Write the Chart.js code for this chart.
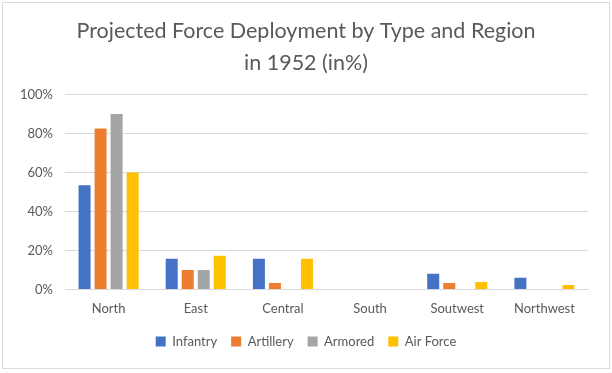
<!DOCTYPE html>
<html lang="en">
  <head>
    <meta charset="UTF-8">
    <script src="https://cdn.jsdelivr.net/npm/chart.js@4.4.0/dist/chart.umd.min.js"></script>
    <style>
      html, body { margin: 0; padding: 0; background: #FFFFFF; }
      .chart-box {
        position: absolute;
        left: 2px;
        top: 2px;
        width: 606px;
        height: 365px;
        border: 1px solid #D9D9D9;
        background: #FFFFFF;
      }
    </style>
  </head>
  <body>
    <div class="chart-box">
      <canvas id="deployChart"></canvas>
    </div>

    <script>
      const regions = ['North', 'East', 'Central', 'South', 'Soutwest', 'Northwest'];
      const infantry = [53.5, 15.7, 15.7, 0, 8, 6];
      const artillery = [82.5, 10, 3.3, 0, 3.3, 0];
      const armored = [90, 10, 0, 0, 0, 0];
      const airForce = [60, 17.3, 15.7, 0, 3.8, 2.2];
      const yTicks = [0, 20, 40, 60, 80, 100];

      const font = "Lato, 'Open Sans', sans-serif";
      const grey = '#595959';

      const ctx = document.getElementById('deployChart').getContext('2d');
      const deployChart = new Chart(ctx, {
        type: 'bar',
        data: {
          labels: regions,
          datasets: [
            { label: 'Infantry', data: infantry, backgroundColor: '#4472C4' },
            { label: 'Artillery', data: artillery, backgroundColor: '#ED7D31' },
            { label: 'Armored', data: armored, backgroundColor: '#A5A5A5' },
            { label: 'Air Force', data: airForce, backgroundColor: '#FFC000' }
          ]
        },
        options: {
          responsive: true,
          maintainAspectRatio: false,
          animation: false,
          datasets: {
            bar: { categoryPercentage: 0.735, barPercentage: 0.75 }
          },
          layout: { padding: { left: 13, right: 13, top: 8, bottom: 10 } },
          plugins: {
            title: {
              display: true,
              text: ['Projected Force Deployment by Type and Region', 'in 1952 (in%)'],
              color: grey,
              font: { family: font, size: 21.5, weight: 'normal', lineHeight: 1.5 },
              padding: { top: 4, bottom: 15 }
            },
            legend: {
              position: 'bottom',
              labels: {
                color: grey,
                font: { family: font, size: 13 },
                boxWidth: 10,
                boxHeight: 10,
                padding: 14
              }
            },
            tooltip: { enabled: false }
          },
          scales: {
            x: {
              grid: { display: false },
              border: { color: '#D9D9D9' },
              ticks: { color: grey, font: { family: font, size: 13 }, padding: 4 }
            },
            y: {
              min: 0,
              max: 100,
              afterBuildTicks: axis => { axis.ticks = yTicks.map(v => ({ value: v })); },
              afterFit: axis => { axis.width = 49; },
              grid: { color: '#D9D9D9', drawTicks: false },
              border: { display: false },
              ticks: {
                color: grey,
                font: { family: font, size: 13 },
                padding: 12,
                callback: v => v + '%'
              }
            },
            // empty right-hand gutter, keeps plot area off the right edge
            yRight: {
              position: 'right',
              afterFit: axis => { axis.width = 8; },
              grid: { display: false },
              border: { display: false },
              ticks: { display: false }
            }
          }
        }
      });
    </script>
  </body>
</html>
